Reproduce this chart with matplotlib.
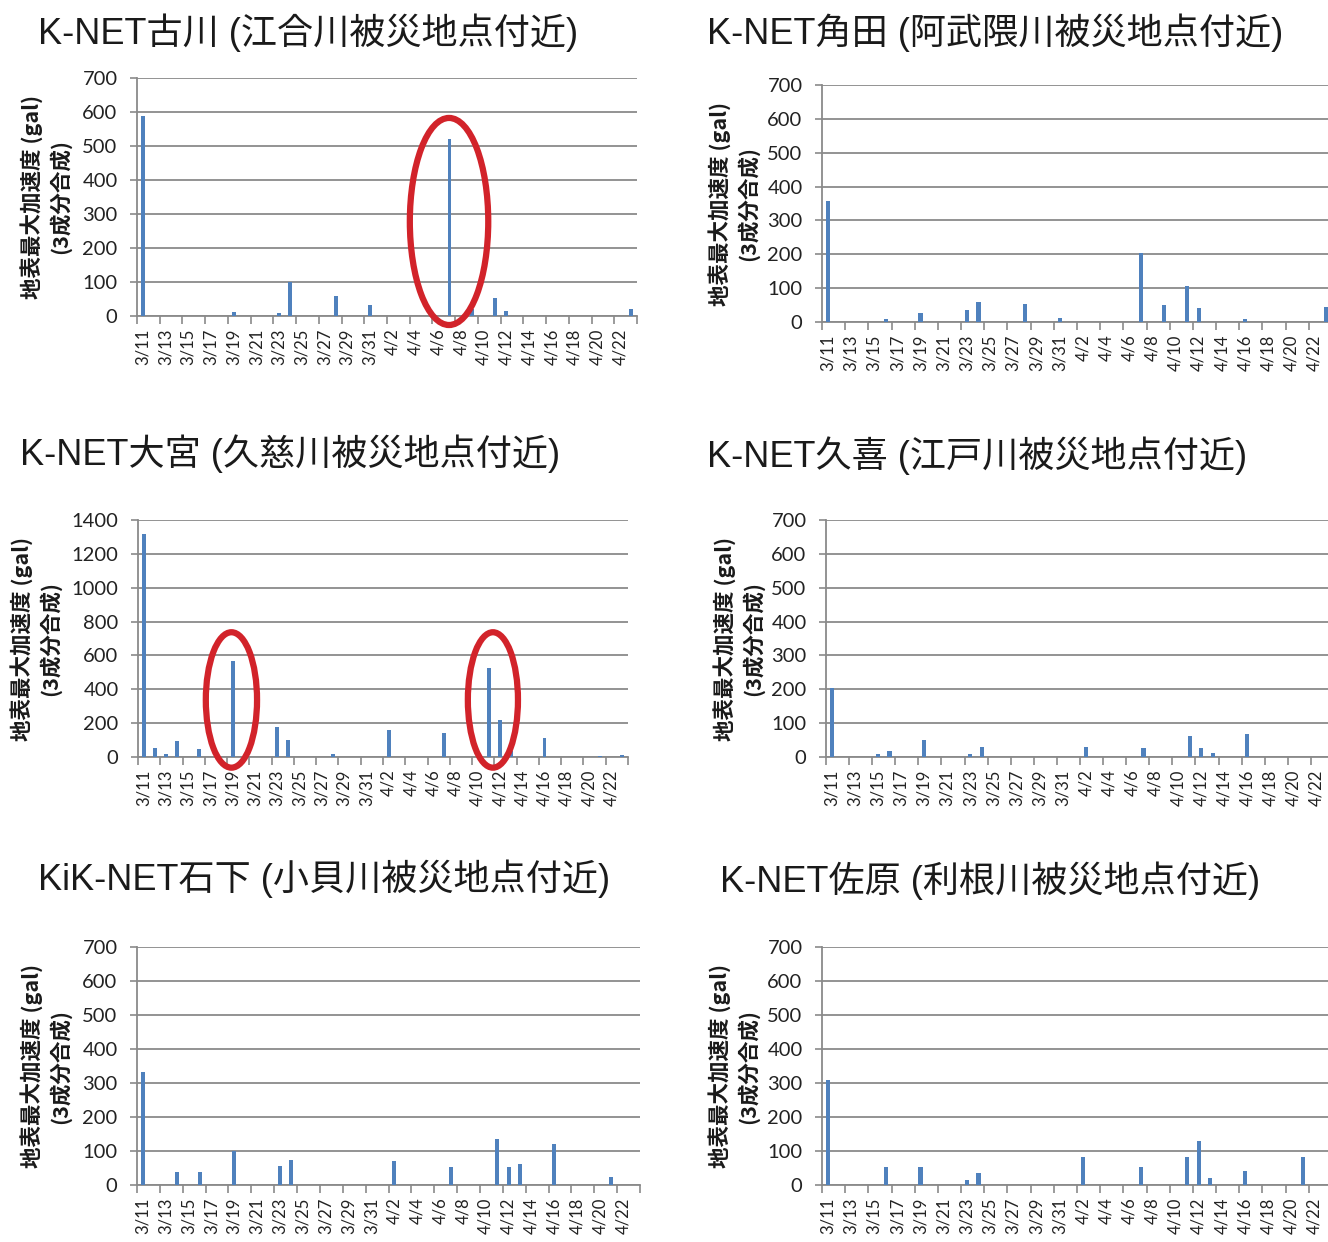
import matplotlib
matplotlib.use("Agg")
import matplotlib.pyplot as plt
from matplotlib.patches import Ellipse
import pandas as pd

plt.rcParams['font.family'] = ['Noto Sans CJK JP', 'DejaVu Sans']

# Daily peak ground acceleration, 3/11 .. 4/23 (44 days), index 0 = 3/11
dates = pd.date_range('2011-03-11', '2011-04-23', freq='D')
day_labels = [f"{d.month}/{d.day}" for d in dates]

furukawa = [588, 0, 0, 0, 0, 0, 0, 0, 12, 0, 0, 0, 10, 100, 0, 0, 0, 60, 0, 0, 33, 0,
            0, 0, 0, 0, 0, 522, 0, 22, 0, 53, 14, 0, 0, 0, 0, 0, 0, 0, 0, 0, 0, 22]
kakuda = [358, 0, 0, 0, 0, 8, 0, 0, 28, 0, 0, 0, 34, 59, 0, 0, 0, 54, 0, 0, 12, 0,
          0, 0, 0, 0, 0, 205, 0, 49, 0, 105, 41, 0, 0, 0, 8, 0, 0, 0, 0, 0, 0, 45]
omiya = [1317, 55, 15, 92, 0, 47, 0, 0, 568, 0, 0, 0, 176, 99, 0, 0, 0, 15, 0, 0, 0, 0,
         158, 0, 0, 0, 0, 140, 0, 0, 0, 527, 218, 35, 0, 0, 111, 0, 0, 0, 0, 4, 0, 14]
kuki = [205, 0, 0, 0, 10, 17, 0, 0, 50, 0, 0, 0, 10, 30, 0, 0, 0, 0, 0, 0, 0, 0,
        30, 0, 0, 0, 0, 27, 0, 0, 0, 62, 27, 12, 0, 0, 69, 0, 0, 0, 0, 0, 0, 0]
ishige = [332, 0, 0, 38, 0, 38, 0, 0, 100, 0, 0, 0, 57, 73, 0, 0, 0, 0, 0, 0, 0, 0,
          70, 0, 0, 0, 0, 53, 0, 0, 0, 135, 53, 62, 0, 0, 122, 0, 0, 0, 0, 23, 0, 0]
sawara = [308, 0, 0, 0, 0, 54, 0, 0, 54, 0, 0, 0, 14, 36, 0, 0, 0, 0, 0, 0, 0, 0,
          82, 0, 0, 0, 0, 53, 0, 0, 0, 82, 130, 22, 0, 0, 42, 0, 0, 0, 0, 82, 0, 0]

titles = ["K-NET古川 (江合川被災地点付近)", "K-NET角田 (阿武隈川被災地点付近)",
          "K-NET大宮 (久慈川被災地点付近)", "K-NET久喜 (江戸川被災地点付近)",
          "KiK-NET石下 (小貝川被災地点付近)", "K-NET佐原 (利根川被災地点付近)"]
series = [furukawa, kakuda, omiya, kuki, ishige, sawara]
y_max = [700, 700, 1400, 700, 700, 700]
y_step = [100, 100, 200, 100, 100, 100]
ylabel_1 = "地表最大加速度 (gal)"
ylabel_2 = "(3成分合成)"

W, H = 1328, 1242
fig = plt.figure(figsize=(W / 100, H / 100), dpi=100)
fig.patch.set_facecolor('white')

# pixel boxes: left, right, top, bottom
boxes = [(137, 637, 78, 316), (822, 1332, 85, 322),
         (138, 628, 520, 757), (826, 1334, 520, 757),
         (137, 640, 947, 1185), (822, 1332, 947, 1185)]
title_pos = [(38, 33), (707, 33), (20, 454), (707, 456), (38, 879), (720, 881)]
ylab_x = [(32, 60), (720, 748), (22, 50), (725, 753), (32, 60), (720, 748)]

grid_c = '#8a8a8a'
bar_c = '#4F81BD'
tick_font = 'Lato'
title_font = ['Liberation Sans', 'Noto Sans CJK JP']
n = len(day_labels)

axes = []
for i in range(6):
    l, r, t, b = boxes[i]
    ax = fig.add_axes([l / W, 1 - b / H, (r - l) / W, (b - t) / H])
    axes.append(ax)
    ax.bar(range(n), series[i], width=0.35, color=bar_c, zorder=3)
    ax.set_xlim(-0.5, n - 0.5)
    ax.set_ylim(0, y_max[i])
    ax.set_yticks(range(0, y_max[i] + 1, y_step[i]))
    ax.yaxis.grid(True, color=grid_c, lw=1.3, zorder=0)
    ax.set_axisbelow(True)
    for s in ['top', 'right']:
        ax.spines[s].set_visible(False)
    for s in ['left', 'bottom']:
        ax.spines[s].set_color(grid_c)
        ax.spines[s].set_linewidth(1.3)
    # category labels every 2 days, tick marks on category boundaries
    ax.set_xticks(range(0, n, 2))
    ax.set_xticklabels(day_labels[::2], rotation=90, fontsize=12,
                       family=tick_font, color='#222222')
    ax.tick_params(axis='x', length=0, pad=9)
    ax.set_xticks([k - 0.5 for k in range(0, n + 1, 2)], minor=True)
    ax.tick_params(axis='x', which='minor', length=6, width=1.2, color=grid_c)
    ax.tick_params(axis='y', length=5, width=1.2, color=grid_c, pad=9,
                   labelsize=14.5, labelcolor='#222222')
    for lab in ax.get_yticklabels():
        lab.set_family(tick_font)
    fig.text(title_pos[i][0] / W, 1 - title_pos[i][1] / H, titles[i],
             fontsize=26, family=title_font, ha='left', va='center',
             color='#1a1a1a')
    yc = 1 - ((t + b) / 2) / H
    fig.text(ylab_x[i][0] / W, yc, ylabel_1, rotation=90, fontsize=15.5,
             fontweight='bold', ha='center', va='center', color='#1a1a1a')
    fig.text(ylab_x[i][1] / W, yc, ylabel_2, rotation=90, fontsize=15.5,
             fontweight='bold', ha='center', va='center', color='#1a1a1a')

# highlight rings around the notable aftershock records
ring_c = '#D2232A'
axes[0].add_patch(Ellipse((26.96, 278), 6.9, 609, fill=False, ec=ring_c,
                          lw=4.5, clip_on=False, zorder=5))
axes[2].add_patch(Ellipse((7.89, 337), 4.6, 800, fill=False, ec=ring_c,
                          lw=4.5, clip_on=False, zorder=5))
axes[2].add_patch(Ellipse((31.37, 337), 4.5, 800, fill=False, ec=ring_c,
                          lw=4.5, clip_on=False, zorder=5))

fig.savefig('out.png', dpi=100)
